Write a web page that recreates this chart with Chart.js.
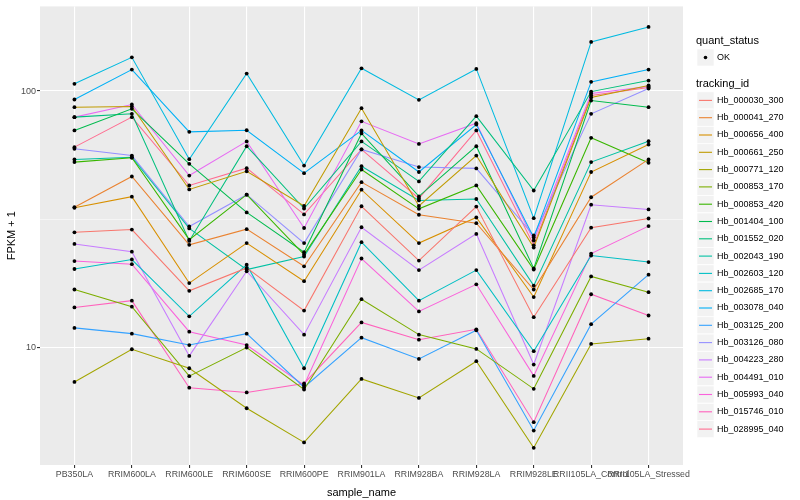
<!DOCTYPE html>
<html>
<head>
<meta charset="utf-8">
<script src="https://cdn.jsdelivr.net/npm/chart.js@4.4.1/dist/chart.umd.min.js"></script>
<style>
  html, body { margin: 0; padding: 0; background: #fff; }
  #wrap { width: 800px; height: 500px; }
</style>
</head>
<body>
<div id="wrap"><canvas id="fpkmChart" width="800" height="500"></canvas></div>
<script>
// categorias do eixo x
const categories = ['PB350LA', 'RRIM600LA', 'RRIM600LE', 'RRIM600SE', 'RRIM600PE', 'RRIM901LA',
    'RRIM928BA', 'RRIM928LA', 'RRIM928LE', 'RRII105LA_Control', 'RRII105LA_Stressed'];

const trackingIds = ['Hb_000030_300', 'Hb_000041_270', 'Hb_000656_400', 'Hb_000661_250', 'Hb_000771_120',
    'Hb_000853_170', 'Hb_000853_420', 'Hb_001404_100', 'Hb_001552_020', 'Hb_002043_190',
    'Hb_002603_120', 'Hb_002685_170', 'Hb_003078_040', 'Hb_003125_200', 'Hb_003126_080',
    'Hb_004223_280', 'Hb_004491_010', 'Hb_005993_040', 'Hb_015746_010', 'Hb_028995_040'];

// FPKM + 1 por amostra
const hb000030_300 = [28.1, 28.8, 16.6, 20.4, 13.9, 35.5, 21.8, 35.4, 13.1, 29.3, 31.8];
const hb000041_270 = [35.2, 46.4, 25.1, 28.9, 20.7, 44.1, 32.9, 30.5, 16.8, 38.5, 54.1];
const hb000656_400 = [35.0, 38.7, 17.8, 25.5, 18.1, 41.2, 25.5, 32.1, 15.7, 48.3, 61.8];
const hb000661_250 = [86.5, 87.0, 41.3, 48.6, 35.6, 85.7, 35.6, 56.0, 24.5, 94.3, 105.1];
const hb000771_120 = [7.32, 9.82, 8.28, 5.78, 4.25, 7.52, 6.34, 8.82, 4.05, 10.3, 10.8];
const hb000853_170 = [16.8, 14.4, 7.71, 9.97, 6.84, 15.4, 11.2, 9.85, 6.88, 18.9, 16.4];
const hb000853_420 = [52.8, 54.9, 26.3, 39.4, 23.0, 49.4, 34.7, 42.8, 20.1, 65.7, 52.5];
const hb001404_100 = [70.2, 85.2, 52.0, 33.6, 23.5, 68.3, 38.8, 60.9, 20.3, 91.8, 86.5];
const hb001552_020 = [79.1, 81.5, 26.0, 60.9, 34.8, 63.6, 44.4, 79.8, 40.9, 99.5, 109.9];
const hb002043_190 = [54.1, 55.2, 29.1, 20.1, 22.6, 50.9, 37.4, 37.9, 17.4, 52.8, 63.7];
const hb002603_120 = [20.2, 22.0, 13.2, 21.0, 8.28, 25.7, 15.2, 20.0, 9.65, 22.8, 21.5];
const hb002685_170 = [106.7, 135.4, 54.2, 117.0, 51.2, 122.7, 92.4, 122.0, 31.9, 155.5, 177.9];
const hb003078_040 = [92.7, 121.3, 69.3, 70.3, 47.8, 70.2, 48.3, 74.0, 26.8, 108.6, 121.3];
const hb003125_200 = [11.9, 11.3, 10.2, 11.3, 6.98, 10.9, 9.0, 11.65, 4.73, 12.3, 19.2];
const hb003126_080 = [59.5, 56.0, 29.6, 39.4, 25.5, 59.2, 50.5, 49.9, 27.3, 81.5, 102.3];
const hb004223_280 = [25.3, 23.6, 9.25, 19.8, 11.2, 29.4, 20.0, 27.7, 8.56, 36.0, 34.5];
const hb004491_010 = [79.1, 88.6, 46.8, 63.6, 29.2, 76.2, 62.2, 74.9, 26.1, 97.8, 104.1];
const hb005993_040 = [21.7, 21.1, 11.5, 10.2, 7.11, 22.2, 13.8, 17.6, 7.73, 23.2, 29.7];
const hb015746_010 = [14.3, 15.2, 6.95, 6.66, 7.22, 12.5, 10.7, 11.75, 5.10, 16.1, 13.3];
const hb028995_040 = [60.4, 79.1, 42.8, 50.0, 33.0, 59.2, 38.1, 70.2, 25.0, 96.0, 103.2];

const seriesValues = [hb000030_300, hb000041_270, hb000656_400, hb000661_250, hb000771_120,
    hb000853_170, hb000853_420, hb001404_100, hb001552_020, hb002043_190,
    hb002603_120, hb002685_170, hb003078_040, hb003125_200, hb003126_080,
    hb004223_280, hb004491_010, hb005993_040, hb015746_010, hb028995_040];

const yMajorTicks = [10, 100];
const yMinorTicks = [31.62];

// paleta hue do ggplot (20 cores)
const palette = ['#F8766D', '#EA8331', '#D89000', '#C09B00', '#A3A500', '#7CAE00', '#39B600', '#00BB4E',
    '#00BF7D', '#00C1A3', '#00BFC4', '#00BAE0', '#00B0F6', '#35A2FF', '#9590FF', '#C77CFF',
    '#E76BF3', '#FA62DB', '#FF62BC', '#FF6C90'];

const FONT = '"Liberation Sans", Arial, sans-serif';

const panelBg = {
    id: 'panelBg',
    beforeDraw(chart) {
        const { ctx, chartArea: a } = chart;
        ctx.save();
        ctx.fillStyle = '#EBEBEB';
        ctx.fillRect(a.left, a.top, a.right - a.left, a.bottom - a.top);
        ctx.restore();
    }
};

// pontos pretos por cima de todas as linhas
const blackPoints = {
    id: 'blackPoints',
    afterDatasetsDraw(chart) {
        const ctx = chart.ctx;
        ctx.save();
        ctx.fillStyle = '#000';
        chart.data.datasets.forEach((ds, i) => {
            chart.getDatasetMeta(i).data.forEach(el => {
                ctx.beginPath();
                ctx.arc(el.x, el.y, 1.9, 0, Math.PI * 2);
                ctx.fill();
            });
        });
        ctx.restore();
    }
};

function drawKey(ctx, x, y) {
    ctx.fillStyle = '#F2F2F2';
    ctx.fillRect(x, y, 17, 17);
    ctx.strokeStyle = '#FFFFFF';
    ctx.lineWidth = 0.6;
    ctx.strokeRect(x, y, 17, 17);
}

const ggLegend = {
    id: 'ggLegend',
    afterDraw(chart) {
        const ctx = chart.ctx;
        ctx.save();
        ctx.textAlign = 'left';
        ctx.textBaseline = 'middle';

        ctx.fillStyle = '#000';
        ctx.font = '11px ' + FONT;
        ctx.fillText('quant_status', 696, 41);
        drawKey(ctx, 697, 49);
        ctx.fillStyle = '#000';
        ctx.beginPath();
        ctx.arc(705.5, 57.5, 1.8, 0, Math.PI * 2);
        ctx.fill();
        ctx.font = '9px ' + FONT;
        ctx.fillText('OK', 717, 57.5);

        ctx.font = '11px ' + FONT;
        ctx.fillText('tracking_id', 696, 84);

        chart.data.datasets.forEach((ds, i) => {
            const cy = 100.4 + i * 17.3;
            drawKey(ctx, 697, cy - 8.5);
            ctx.strokeStyle = ds.borderColor;
            ctx.lineWidth = 1.1;
            ctx.beginPath();
            ctx.moveTo(699, cy);
            ctx.lineTo(712, cy);
            ctx.stroke();
            ctx.fillStyle = '#000';
            ctx.font = '9px ' + FONT;
            ctx.fillText(ds.label, 717, cy);
        });
        ctx.restore();
    }
};

function criarGrafico() {
    const ctx = document.getElementById('fpkmChart').getContext('2d');

    const datasets = trackingIds.map((id, i) => ({
        label: id,
        data: seriesValues[i].map((v, j) => ({ x: j, y: v })),
        borderColor: palette[i],
        backgroundColor: palette[i],
        borderWidth: 1.05,
        pointRadius: 0,
        fill: false,
        tension: 0
    }));

    new Chart(ctx, {
        type: 'line',
        data: { datasets: datasets },
        plugins: [panelBg, blackPoints, ggLegend],
        options: {
            responsive: false,
            animation: false,
            devicePixelRatio: 1,
            layout: { padding: { left: 0, right: 117, top: 5, bottom: 0 } },
            plugins: { legend: { display: false }, tooltip: { enabled: false } },
            scales: {
                x: {
                    type: 'linear',
                    min: -0.6,
                    max: categories.length - 0.4,
                    afterBuildTicks: scale => {
                        scale.ticks = categories.map((c, i) => ({ value: i }));
                    },
                    afterFit: scale => { scale.height = 35; },
                    ticks: {
                        autoSkip: false,
                        maxRotation: 0,
                        minRotation: 0,
                        padding: 1,
                        color: '#4D4D4D',
                        font: { family: FONT, size: 8.8 },
                        callback: value => categories[value]
                    },
                    grid: { color: '#FFFFFF', lineWidth: 1.1, tickColor: '#333333', tickLength: 3 },
                    border: { display: false },
                    title: {
                        display: true,
                        text: 'sample_name',
                        color: '#000',
                        font: { family: FONT, size: 11 },
                        padding: { top: 6.4, bottom: 0 }
                    }
                },
                y: {
                    type: 'logarithmic',
                    min: 3.47,
                    max: 214,
                    afterBuildTicks: scale => {
                        scale.ticks = yMinorTicks.concat(yMajorTicks).map(v => ({ value: v }));
                    },
                    afterFit: scale => { scale.width = 40; },
                    ticks: {
                        padding: 1,
                        color: '#4D4D4D',
                        font: { family: FONT, size: 9 },
                        callback: value => (yMajorTicks.includes(value) ? String(value) : '')
                    },
                    grid: {
                        color: '#FFFFFF',
                        lineWidth: c => (yMajorTicks.includes(c.tick.value) ? 1.1 : 0.5),
                        tickColor: c => (yMajorTicks.includes(c.tick.value) ? '#333333' : 'rgba(0,0,0,0)'),
                        tickLength: 3
                    },
                    border: { display: false },
                    title: {
                        display: true,
                        text: 'FPKM + 1',
                        color: '#000',
                        font: { family: FONT, size: 11 },
                        padding: { top: 5.4, bottom: 0 }
                    }
                }
            }
        }
    });
}

document.addEventListener('DOMContentLoaded', criarGrafico);
</script>
</body>
</html>
